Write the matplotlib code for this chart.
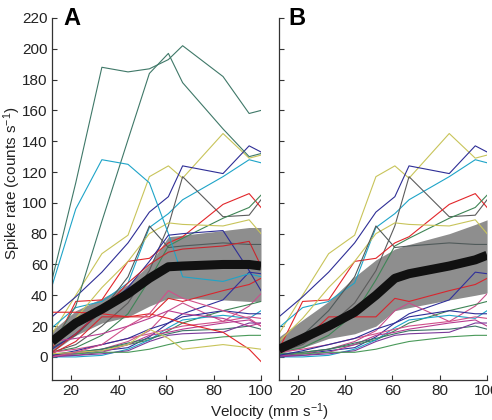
import matplotlib
matplotlib.use("Agg")
import matplotlib.pyplot as plt
import numpy as np

plt.rcParams['font.family'] = ['Liberation Sans', 'DejaVu Sans']
plt.rcParams['mathtext.fontset'] = 'custom'
plt.rcParams['mathtext.rm'] = 'Liberation Sans'
plt.rcParams['mathtext.default'] = 'regular'

# ---------------- data ----------------
velocity = [12, 22, 33, 44, 53, 61, 67, 84, 95, 100]

# neurons shown in both panels
shared_colors = ['#c8c45a', '#2e2e96', '#1ea4c8', '#5c5c5c', '#e2262a', '#3f8556',
                 '#c8c45a', '#505a5a', '#d8262e', '#30309a', '#c8508c', '#3f8556',
                 '#1ea4c8', '#b83c90', '#3c7466', '#7a3a9a', '#4a9a5a', '#d0508a',
                 '#2e2e96']
shared_rates = [
    [15, 40, 67, 79, 117, 124, 116, 145, 129, 131],
    [26, 39, 55, 74, 94, 104, 124, 119, 137, 133],
    [19, 32, 36, 48, 84, 93, 102, 117, 128, 126],
    [3, 8, 20, 35, 56, 85, 117, 91, 92, 102],
    [5, 36, 37, 62, 64, 74, 78, 99, 106, 97],
    [3, 6, 14, 28, 50, 72, 77, 90, 97, 105],
    [10, 25, 45, 62, 80, 87, 86, 85, 89, 80],
    [6, 14, 30, 52, 85, 71, 72, 74, 73, 73],
    [2, 10, 26, 26, 26, 38, 36, 43, 47, 51],
    [1, 2, 4, 6, 13, 22, 28, 37, 55, 54],
    [0, 2, 5, 10, 17, 30, 35, 23, 33, 41],
    [1, 3, 5, 8, 11, 17, 22, 30, 34, 36],
    [0, 0, 1, 5, 11, 19, 24, 27, 25, 30],
    [1, 1, 3, 8, 14, 16, 18, 22, 24, 20],
    [2, 3, 5, 9, 12, 15, 17, 18, 20, 18],
    [0, 1, 2, 4, 10, 14, 15, 16, 22, 22],
    [2, 2, 3, 3, 5, 8, 10, 13, 14, 14],
    [3, 5, 8, 12, 15, 18, 20, 23, 26, 25],
    [1, 4, 8, 12, 18, 22, 26, 30, 28, 28],
]

# neurons shown only in panel A
a_only_colors = ['#3f7868', '#3f7868', '#1ea4c8', '#e2262a', '#c8c45a', '#2e2e96',
                 '#c8262e', '#b83c90', '#d0508a']
a_only_rates = [
    [50, 113, 188, 185, 187, 193, 202, 182, 158, 160],
    [8, 33, 88, 141, 184, 197, 178, 148, 130, 132],
    [46, 96, 128, 125, 113, 80, 52, 49, 54, 52],
    [29, 29, 28, 26, 28, 25, 22, 16, 5, -3],
    [2, 3, 4, 8, 18, 12, 5, 8, 6, 5],
    [5, 15, 30, 45, 62, 79, 80, 82, 56, 43],
    [3, 15, 30, 48, 60, 68, 70, 72, 75, 59],
    [10, 12, 15, 20, 25, 30, 28, 25, 20, 22],
    [0, 3, 8, 20, 28, 43, 38, 30, 25, 20],
]

mean_A = [10, 22, 31, 41, 51, 58.5, 59, 60, 60, 59]
upper_A = [17, 30, 38, 47, 60, 78, 79, 82, 84, 84]
lower_A = [3, 14, 22, 26, 33, 38, 38, 37, 36, 36]

mean_B = [5, 12, 20, 29, 40, 51, 54, 59, 63, 66]
upper_B = [13, 24, 36, 52, 63, 70, 73, 80, 86, 89]
lower_B = [2, 6, 12, 15, 20, 30, 32, 37, 40, 41.5]

yticks = list(range(0, 221, 20))
xticks = [20, 40, 60, 80, 100]

# ---------------- figure ----------------
fig = plt.figure(figsize=(4.92, 4.2), dpi=100)
axA = fig.add_axes([0.1057, 0.0952, 0.4248, 0.862])
axB = fig.add_axes([0.567, 0.0952, 0.423, 0.862])


def style(ax, show_ylabels):
    ax.set_xlim(12, 100)
    ax.set_ylim(-15, 220)
    ax.set_xticks(xticks)
    ax.set_yticks(yticks)
    for s in ['top', 'right']:
        ax.spines[s].set_visible(False)
    for s in ['left', 'bottom']:
        ax.spines[s].set_color('#333333')
        ax.spines[s].set_linewidth(0.9)
    ax.tick_params(direction='in', length=3.5, width=0.8, colors='#333333',
                   labelsize=11, labelcolor='#222222', pad=3)
    if not show_ylabels:
        ax.set_yticklabels([])


def draw(ax, mean, lo, hi, rates, colors):
    ax.fill_between(velocity, lo, hi, color='#8e8e8e', lw=0, zorder=1)
    for r, c in zip(rates, colors):
        ax.plot(velocity, r, color=c, lw=0.8, zorder=2)
    ax.plot(velocity, mean, color='#111111', lw=6.5, zorder=3,
            solid_joinstyle='round', solid_capstyle='butt')


draw(axA, mean_A, lower_A, upper_A, shared_rates + a_only_rates,
     shared_colors + a_only_colors)
draw(axB, mean_B, lower_B, upper_B, shared_rates, shared_colors)
style(axA, True)
style(axB, False)

fig.text(0.128, 0.94, 'A', fontsize=17, fontweight='bold', va='baseline')
fig.text(0.587, 0.94, 'B', fontsize=17, fontweight='bold', va='baseline')
fig.text(0.024, 0.564, 'Spike rate (counts s$^{-1}$)', rotation=90,
         fontsize=11, ha='center', va='center', color='#222222')
fig.text(0.547, 0.008, 'Velocity (mm s$^{-1}$)', fontsize=11,
         ha='center', va='baseline', color='#222222')

fig.savefig('out.png', dpi=100)
